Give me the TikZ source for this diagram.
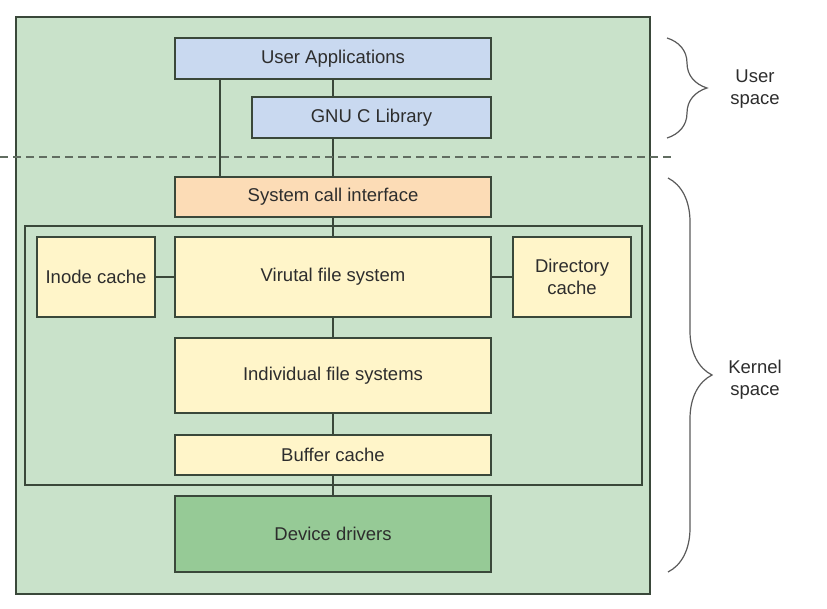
\documentclass[tikz,border=0pt]{standalone}
\usepackage{fontspec}
\setmainfont{Liberation Sans}
\usetikzlibrary{decorations.pathreplacing}

\definecolor{edge}{RGB}{58,72,58}
\definecolor{ink}{RGB}{45,45,45}
\definecolor{bggreen}{RGB}{201,226,202}
\definecolor{userblue}{RGB}{201,217,240}
\definecolor{sysorange}{RGB}{252,220,182}
\definecolor{fsyellow}{RGB}{255,245,201}
\definecolor{drvgreen}{RGB}{150,202,150}
\definecolor{bracegray}{RGB}{90,90,90}

\begin{document}
\begin{tikzpicture}[x=1pt,y=-1pt,-]
    \tikzstyle{layer}=[rectangle,draw=edge,line width=1.5pt,text=ink,inner sep=0pt,align=center,font=\fontsize{18.5}{22}\selectfont]
    \tikzstyle{link}=[draw=edge,line width=1.5pt]
    \tikzstyle{side}=[text=ink,align=center,font=\fontsize{18.5}{22}\selectfont]
    \tikzstyle{curly}=[draw=bracegray,line width=1.2pt,decorate]
    \useasboundingbox (0,0) rectangle (827,609);

    % frames
    \node[layer,fill=bggreen,minimum width=634pt,minimum height=577pt] (kernelbox) at (333,305.5) {};
    \node[layer,fill=bggreen,minimum width=617pt,minimum height=259pt] (vfsgroup) at (333.5,355.5) {};

    % user space
    \node[layer,fill=userblue,minimum width=316pt,minimum height=41pt] (ua) at (333,58.5) {User Applications};
    \node[layer,fill=userblue,minimum width=239pt,minimum height=41pt] (glibc) at (371.5,117.5) {GNU C Library};

    % kernel space
    \node[layer,fill=sysorange,minimum width=316pt,minimum height=40pt] (sci) at (333,197) {System call interface};
    \node[layer,fill=fsyellow,minimum width=118pt,minimum height=80pt] (inode) at (96,277) {Inode cache};
    \node[layer,fill=fsyellow,minimum width=316pt,minimum height=80pt] (vfs) at (333,277) {Virutal file system};
    \node[layer,fill=fsyellow,minimum width=118pt,minimum height=80pt] (dcache) at (572,277) {Directory\\cache};
    \node[layer,fill=fsyellow,minimum width=316pt,minimum height=75pt] (ifs) at (333,375.5) {Individual file systems};
    \node[layer,fill=fsyellow,minimum width=316pt,minimum height=40pt] (bcache) at (333,455) {Buffer cache};
    \node[layer,fill=drvgreen,minimum width=316pt,minimum height=76pt] (drv) at (333,534) {Device drivers};

    \draw[link] (ua.south) -- (ua.south |- glibc.north);
    \draw[link] (sci.north |- glibc.south) -- (sci.north);
    \draw[link] ([xshift=-113pt]ua.south) -- ([xshift=-113pt]sci.north);
    \foreach \from/\to in {sci/vfs,vfs/ifs,ifs/bcache,bcache/drv}
        \draw[link] (\from) -- (\to);
    \draw[link] (inode) -- (vfs);
    \draw[link] (vfs) -- (dcache);

    % user / kernel boundary
    \coordinate (split-l) at (0,157);
    \coordinate (split-r) at (673,157);
    \draw[draw=edge!80,line width=1.2pt,dash pattern=on 8pt off 5pt] (split-l) -- (split-r);

    % braces
    \coordinate (us-top) at (667,38);
    \coordinate (us-bot) at (667,138);
    \coordinate (ks-top) at (668,178);
    \coordinate (ks-bot) at (668,572);
    \draw[curly,decoration={brace,amplitude=40pt}] (us-top) -- (us-bot);
    \draw[curly,decoration={brace,amplitude=44pt}] (ks-top) -- (ks-bot);
    \node[side] (userspace) at (755,89) {User\\space};
    \node[side] (kernelspace) at (755,380) {Kernel\\space};
\end{tikzpicture}
\end{document}
